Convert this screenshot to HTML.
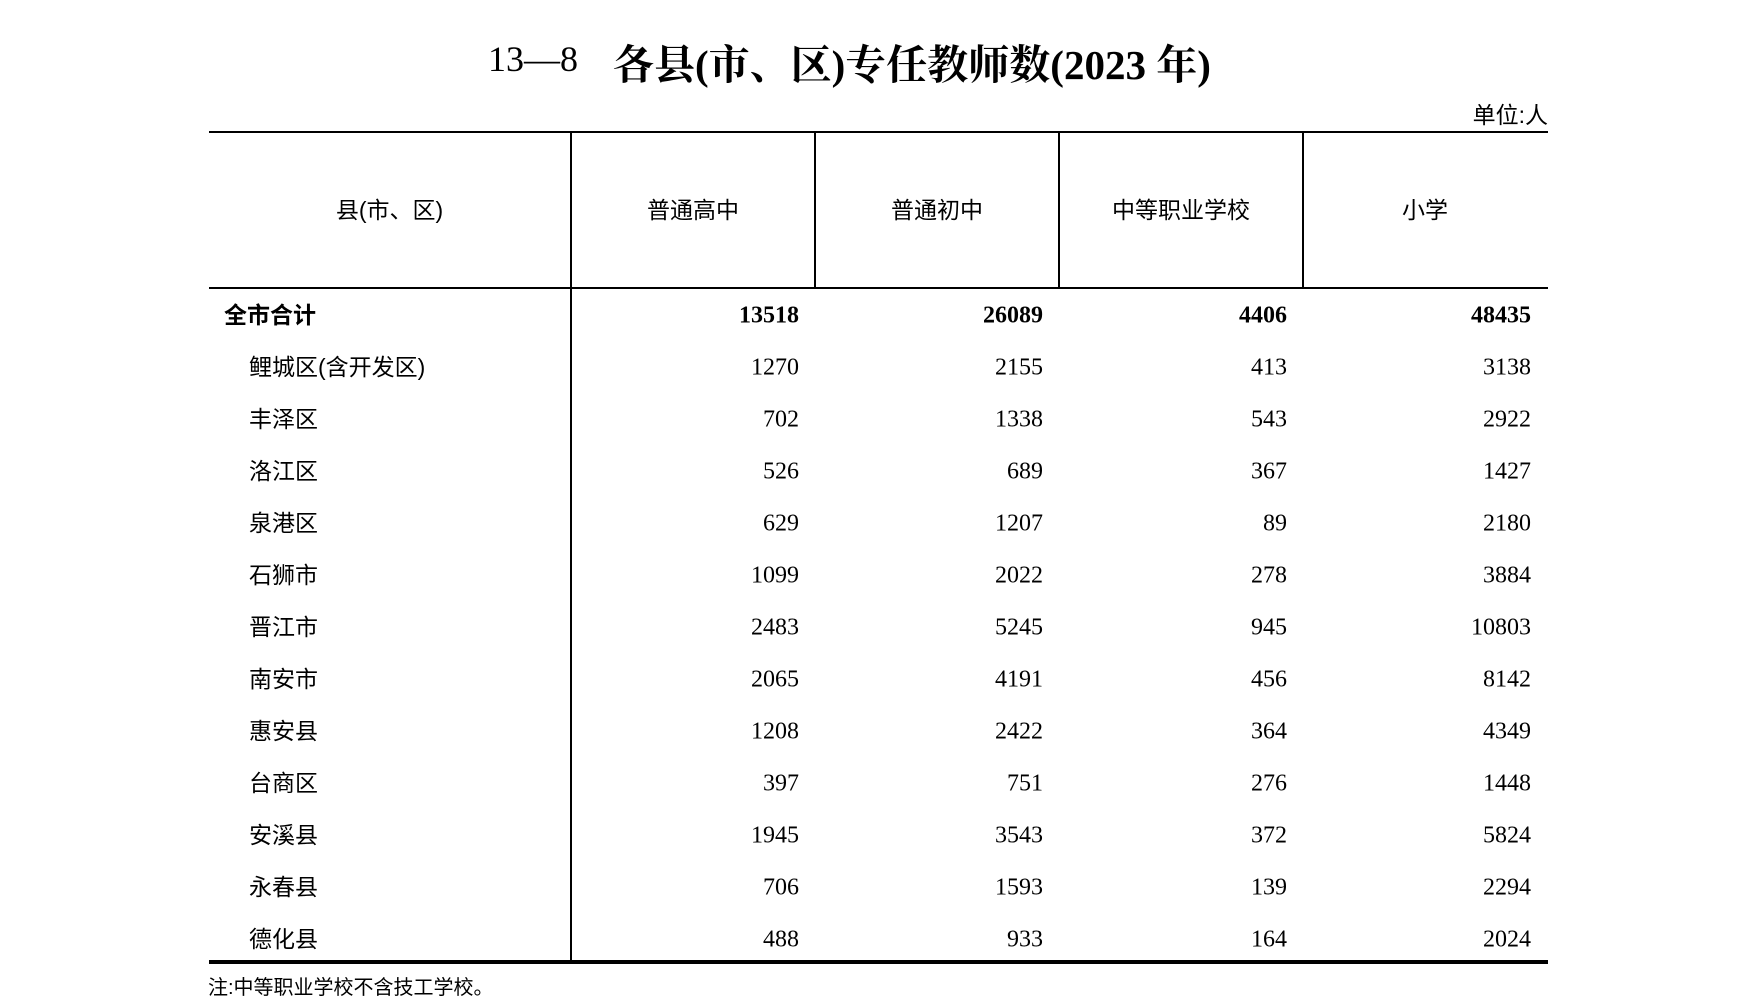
<!DOCTYPE html>
<html><head><meta charset="utf-8"><style>
body{margin:0;width:1755px;height:1008px;background:#fff;position:relative;overflow:hidden;font-family:"Liberation Serif","Noto Serif CJK SC",serif;color:#000}
.a{position:absolute;white-space:nowrap}
.h{position:absolute;background:#000}
.n{position:absolute;font-size:24px;text-align:right;width:200px;transform:translateY(-50%)}
.nm{position:absolute;font-size:23px;font-family:"Liberation Sans","Noto Sans CJK SC",sans-serif;transform:translateY(-50%);margin-top:-3px}
</style></head><body>
<div class="a" style="left:488px;top:38px;font-size:36px;">13—8</div>
<div class="a" style="left:613px;top:32px;font-size:41px;font-weight:bold;font-family:'Liberation Serif','Noto Serif CJK SC',serif">各县(市、区)专任教师数(2023 年)</div>
<div class="a" style="right:207px;top:96px;font-size:23px;font-family:'Liberation Sans','Noto Sans CJK SC',sans-serif">单位:人</div>
<div class="h" style="left:209px;top:131px;width:1339px;height:2px"></div>
<div class="h" style="left:209px;top:287px;width:1339px;height:2px"></div>
<div class="h" style="left:209px;top:960px;width:1339px;height:4px"></div>
<div class="h" style="left:570px;top:131px;width:1.5px;height:831px"></div>
<div class="h" style="left:814px;top:131px;width:1.5px;height:157px"></div>
<div class="h" style="left:1058px;top:131px;width:1.5px;height:157px"></div>
<div class="h" style="left:1302px;top:131px;width:1.5px;height:157px"></div>
<div class="nm" style="left:209px;width:361px;text-align:center;top:211px">县(市、区)</div>
<div class="nm" style="left:571px;width:244px;text-align:center;top:211px">普通高中</div>
<div class="nm" style="left:815px;width:244px;text-align:center;top:211px">普通初中</div>
<div class="nm" style="left:1059px;width:244px;text-align:center;top:211px">中等职业学校</div>
<div class="nm" style="left:1303px;width:244px;text-align:center;top:211px">小学</div>
<div id="rows"></div>
<div class="a" style="left:208px;top:971px;font-size:20px;font-family:'Liberation Sans','Noto Sans CJK SC',sans-serif">注:中等职业学校不含技工学校。</div>
<script>
var d=[["全市合计",13518,26089,4406,48435],["鲤城区(含开发区)",1270,2155,413,3138],["丰泽区",702,1338,543,2922],["洛江区",526,689,367,1427],["泉港区",629,1207,89,2180],["石狮市",1099,2022,278,3884],["晋江市",2483,5245,945,10803],["南安市",2065,4191,456,8142],["惠安县",1208,2422,364,4349],["台商区",397,751,276,1448],["安溪县",1945,3543,372,5824],["永春县",706,1593,139,2294],["德化县",488,933,164,2024]];
var r=[799,1043,1287,1531],h="";
d.forEach(function(x,i){var y=316+i*52,b=i==0?"font-weight:bold;":"";
h+='<div class="nm" style="'+b+'left:'+(i==0?224:249)+'px;top:'+y+'px">'+x[0]+'</div>';
for(var j=0;j<4;j++)h+='<div class="n" style="'+b+'left:'+(r[j]-200)+'px;top:'+y+'px">'+x[j+1]+'</div>';});
document.getElementById("rows").innerHTML=h;
</script>
</body></html>
